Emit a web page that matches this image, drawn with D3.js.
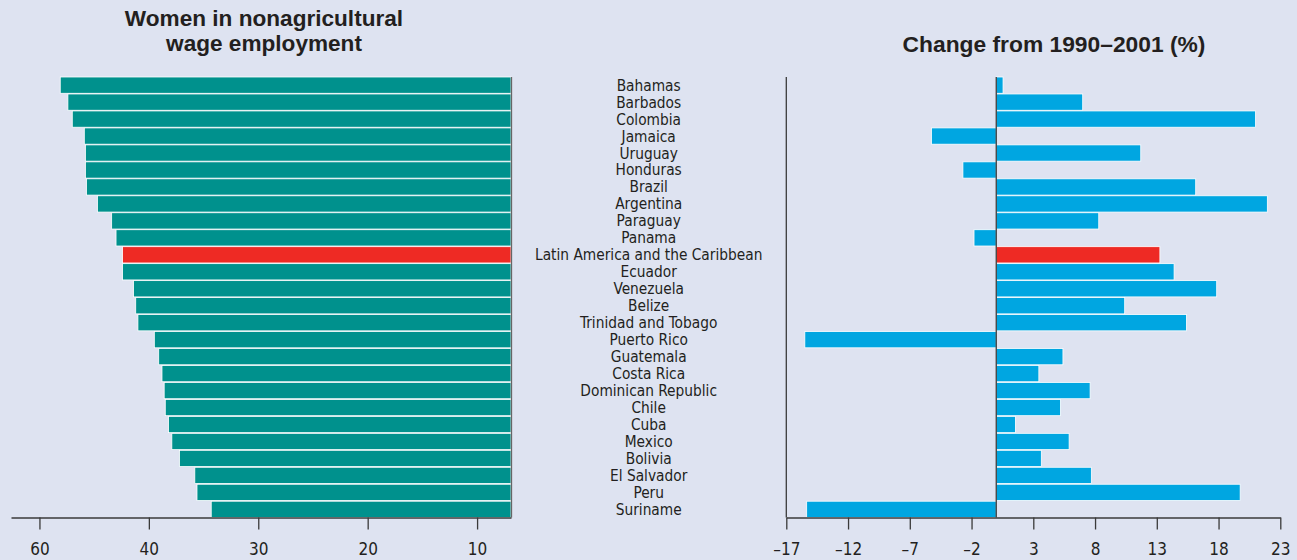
<!DOCTYPE html>
<html>
<head>
<meta charset="utf-8">
<script src="https://cdn.jsdelivr.net/npm/d3@7"></script>
<style>
  html, body { margin: 0; padding: 0; background: #DEE3F1; }
  svg { display: block; }
  .cond { font-family: "Liberation Sans Narrow", "DejaVu Sans Condensed", "Arial Narrow", sans-serif; }
  .title { font-family: "Liberation Sans", Arial, sans-serif; font-weight: 900; fill: #231f20; }
</style>
</head>
<body>
<svg id="chart" width="1297" height="560"></svg>
<script>
const categories = ["Bahamas","Barbados","Colombia","Jamaica","Uruguay","Honduras","Brazil","Argentina","Paraguay","Panama","Latin America and the Caribbean","Ecuador","Venezuela","Belize","Trinidad and Tobago","Puerto Rico","Guatemala","Costa Rica","Dominican Republic","Chile","Cuba","Mexico","Bolivia","El Salvador","Peru","Suriname"];
const womenShare = [48.1,47.4,47.0,45.9,45.8,45.8,45.7,44.7,43.4,43.0,42.4,42.4,41.4,41.2,41.0,39.5,39.1,38.8,38.6,38.5,38.2,37.9,37.2,35.8,35.6,34.3];
const changePct = [0.55,7.0,21.0,-5.25,11.7,-2.7,16.15,21.95,8.3,-1.8,13.25,14.4,17.85,10.4,15.4,-15.5,5.4,3.45,7.6,5.2,1.55,5.9,3.65,7.7,19.75,-15.35];
const highlight = "Latin America and the Caribbean";
const leftTickValues = [50,40,30,20,10];
const leftTickLabels = ["60","40","30","20","10"];
const rightTickValues = [-17,-12,-7,-2,3,8,13,18,23];
const rightTickLabels = ["\u201317","\u201312","\u20137","\u20132","3","8","13","18","23"];

const svg = d3.select("#chart");
const TEAL = "#00918D", BLUE = "#00A6E1", RED = "#EE2A24", AXIS = "#3a3a3a";

const y = d3.scaleBand().domain(categories).range([77, 517.5]).paddingInner(0.04);

// Left chart
const xL = d3.scaleLinear().domain([52.6, 6.9]).range([11, 511]);
const leftEdge = xL.range()[1];
svg.append("g").selectAll("rect").data(categories).join("rect")
  .attr("x", (d,i) => xL(womenShare[i]))
  .attr("y", d => y(d))
  .attr("width", (d,i) => leftEdge - xL(womenShare[i]))
  .attr("height", y.bandwidth())
  .attr("fill", d => d === highlight ? RED : TEAL)
  .attr("stroke", "#ffffff").attr("stroke-width", 0.8);

svg.append("line").attr("x1", leftEdge + 0.5).attr("x2", leftEdge + 0.5)
  .attr("y1", 77).attr("y2", 517.5).attr("stroke", "#666").attr("stroke-width", 1.3);

const axL = svg.append("g").attr("transform", "translate(0,517.5)")
  .call(d3.axisBottom(xL).tickValues(leftTickValues).tickFormat((d,i) => leftTickLabels[i]).tickSize(12).tickSizeOuter(0));

// Right chart
const xR = d3.scaleLinear().domain([-17, 23]).range([786.3, 1280.3]);
svg.append("g").selectAll("rect").data(categories).join("rect")
  .attr("x", (d,i) => xR(Math.min(0, changePct[i])))
  .attr("y", d => y(d))
  .attr("width", (d,i) => Math.abs(xR(changePct[i]) - xR(0)))
  .attr("height", y.bandwidth())
  .attr("fill", d => d === highlight ? RED : BLUE)
  .attr("stroke", "#ffffff").attr("stroke-width", 0.8);

svg.append("line").attr("x1", xR(-17)).attr("x2", xR(-17))
  .attr("y1", 77).attr("y2", 517.5).attr("stroke", AXIS).attr("stroke-width", 1.3);
svg.append("line").attr("x1", xR(0)).attr("x2", xR(0))
  .attr("y1", 77).attr("y2", 517.5).attr("stroke", AXIS).attr("stroke-width", 1.3);

const axR = svg.append("g").attr("transform", "translate(0,517.5)")
  .call(d3.axisBottom(xR).tickValues(rightTickValues).tickFormat((d,i) => rightTickLabels[i]).tickSize(12).tickSizeOuter(0));

[axL, axR].forEach(g => {
  g.select(".domain").attr("stroke", AXIS).attr("stroke-width", 1.5);
  g.selectAll(".tick line").attr("stroke", AXIS).attr("stroke-width", 1.3);
  g.selectAll(".tick text").attr("class", "cond").attr("y", 37.5).attr("dy", 0)
    .attr("font-size", 17).attr("fill", "#231f20");
  g.attr("font-family", null).attr("font-size", null);
});

// Category labels
svg.append("g").selectAll("text").data(categories).join("text")
  .attr("class", "cond")
  .attr("x", 648.7)
  .attr("y", d => y(d) + y.bandwidth() / 2)
  .attr("dy", "0.36em")
  .attr("text-anchor", "middle")
  .attr("font-size", 15.3)
  .attr("fill", "#231f20")
  .text(d => d);

// Titles
svg.append("text").attr("class", "title").attr("x", 264).attr("y", 26)
  .attr("text-anchor", "middle").attr("font-size", 22.6).text("Women in nonagricultural");
svg.append("text").attr("class", "title").attr("x", 264).attr("y", 51)
  .attr("text-anchor", "middle").attr("font-size", 22.6).text("wage employment");
svg.append("text").attr("class", "title").attr("x", 1054).attr("y", 51.5)
  .attr("text-anchor", "middle").attr("font-size", 22.8).text("Change from 1990\u20132001 (%)");
</script>
</body>
</html>
